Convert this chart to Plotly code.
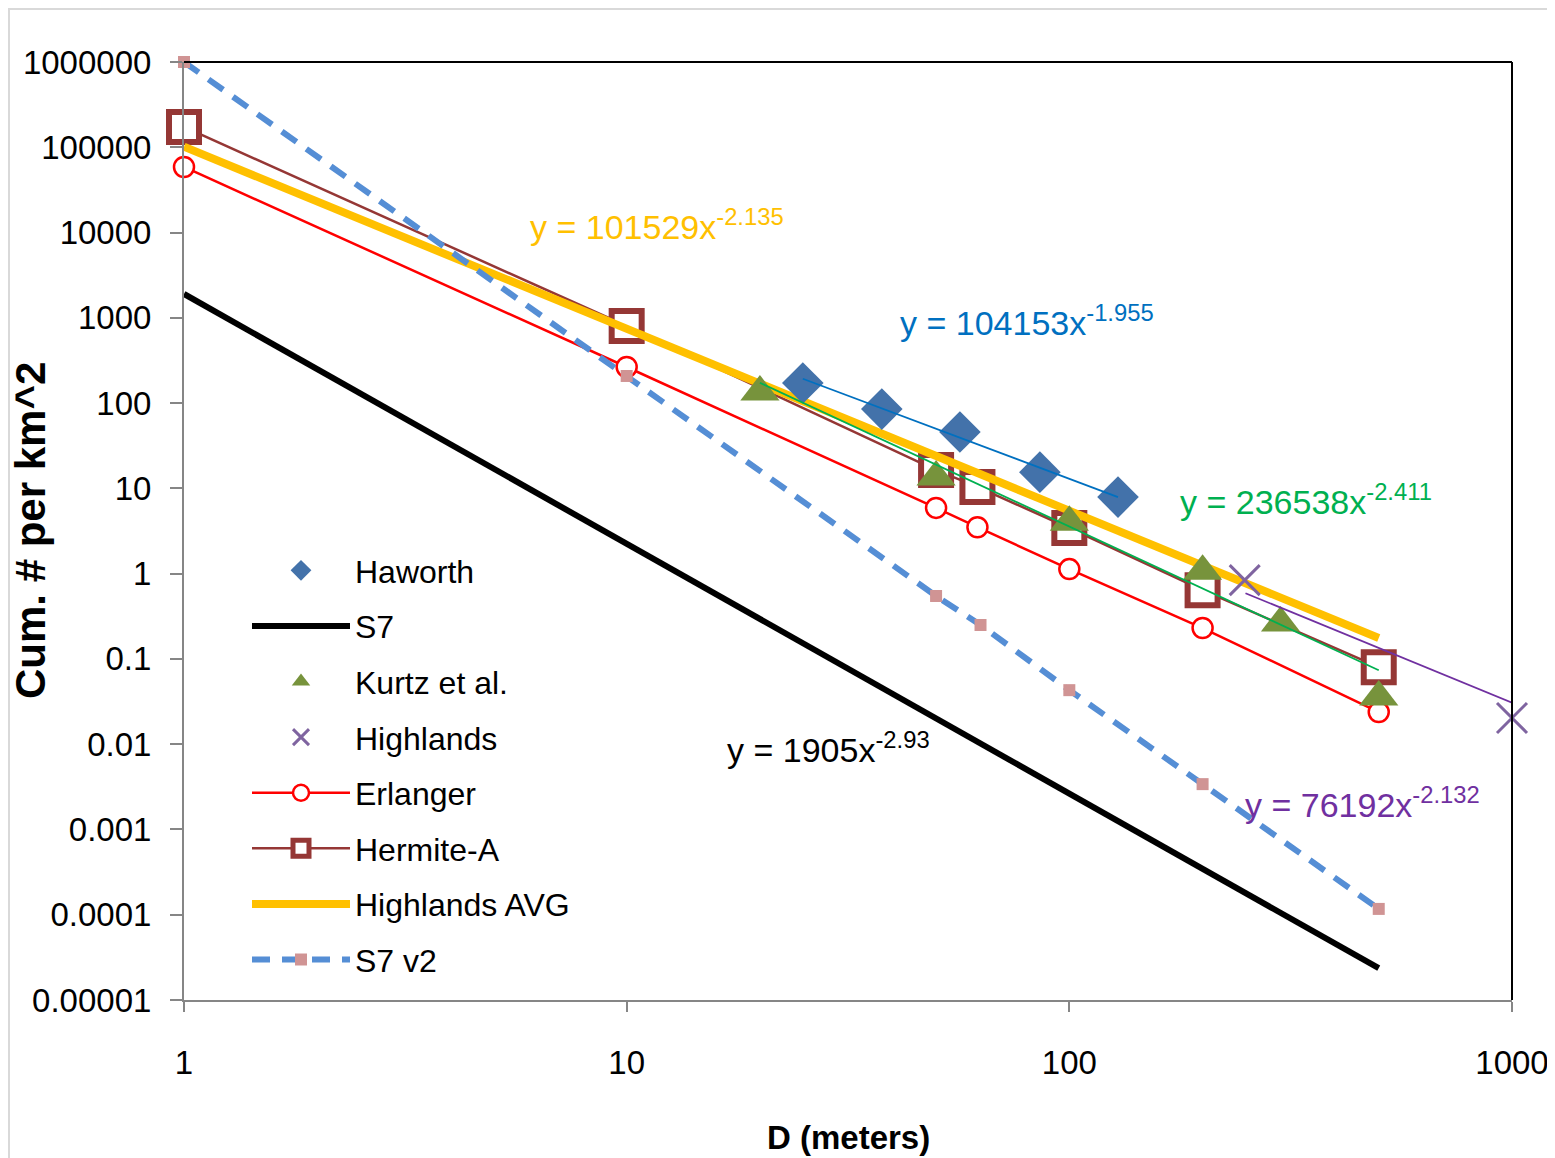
import plotly.graph_objects as go

# ---------------- data ----------------
haworth_x = [25, 37.7, 56.6, 85.8, 128.8]
haworth_y = [172, 85, 45.8, 15.5, 7.9]
haworth_trend_x = [25, 128.8]
haworth_trend_y = [193, 7.9]

s7_x = [1, 500]
s7_y = [1905, 2.36e-5]

kurtz_x = [20, 50, 100, 200, 300, 500]
kurtz_y = [135, 13.6, 4.0, 1.07, 0.264, 0.0357]
kurtz_trend_x = [20, 500]
kurtz_trend_y = [173, 0.0736]

highlands_x = [249, 1000]
highlands_y = [0.84, 0.0203]
highlands_trend_x = [250, 1000]
highlands_trend_y = [0.589, 0.0306]

erlanger_x = [1, 10, 50, 62, 100, 200, 500]
erlanger_y = [58700, 265, 5.9, 3.5, 1.13, 0.23, 0.0238]

hermite_x = [1, 10, 50, 62, 100, 200, 500]
hermite_y = [173000, 802, 16.4, 10.4, 3.43, 0.64, 0.080]

avg_x = [1, 500]
avg_y = [101500, 0.176]

s7v2_x = [1, 10, 50, 63, 100, 200, 500]
s7v2_y = [1000000, 208, 0.547, 0.25, 0.043, 0.0034, 0.000117]

x_ticks = [1, 10, 100, 1000]
x_tick_labels = ["1", "10", "100", "1000"]
y_ticks = [1e-5, 1e-4, 1e-3, 1e-2, 1e-1, 1, 10, 100, 1000, 10000, 100000, 1000000]
y_tick_labels = ["0.00001", "0.0001", "0.001", "0.01", "0.1", "1", "10", "100",
                 "1000", "10000", "100000", "1000000"]

eq_avg = "y = 101529x<sup>-2.135</sup>"
eq_haworth = "y = 104153x<sup>-1.955</sup>"
eq_kurtz = "y = 236538x<sup>-2.411</sup>"
eq_s7 = "y = 1905x<sup>-2.93</sup>"
eq_high = "y = 76192x<sup>-2.132</sup>"

# ---------------- figure ----------------
FONT = "Liberation Sans, Arial, sans-serif"
OFF = 8                      # page body margin of the html page
W, H = 1555 - OFF, 1158 - OFF
PX0, PX1, PY0, PY1 = 184, 1512, 62, 1000   # plot area in screen pixels
L, R, T, B = PX0 - OFF, 1555 - PX1 - OFF * 0 - 0, PY0 - OFF, 1158 - PY1
R = W - (PX1 - OFF)
B = H - (PY1 - OFF)


def px(xs):
    return (xs - PX0) / (PX1 - PX0)


def py(ys):
    return (PY1 - ys) / (PY1 - PY0)


fig = go.Figure()

fig.add_trace(go.Scatter(x=s7_x, y=s7_y, mode="lines", name="S7",
                         line=dict(color="black", width=6), cliponaxis=False,
                         legendrank=2, legendgroup="g2"))
fig.add_trace(go.Scatter(x=erlanger_x, y=erlanger_y, mode="lines+markers", name="Erlanger",
                         line=dict(color="#FF0000", width=2.5), cliponaxis=False,
                         marker=dict(symbol="circle", size=20, color="white",
                                     line=dict(color="#FF0000", width=2.5)),
                         legendrank=5, legendgroup="g5"))
fig.add_trace(go.Scatter(x=hermite_x, y=hermite_y, mode="lines+markers", name="Hermite-A",
                         line=dict(color="#953735", width=2.5), cliponaxis=False,
                         marker=dict(symbol="square", size=30, color="white",
                                     line=dict(color="#953735", width=6)),
                         legendrank=6, legendgroup="g6"))
fig.add_trace(go.Scatter(x=avg_x, y=avg_y, mode="lines", name="Highlands AVG",
                         line=dict(color="#FFC000", width=8), cliponaxis=False,
                         legendrank=7, legendgroup="g7"))
fig.add_trace(go.Scatter(x=s7v2_x, y=s7v2_y, mode="lines+markers", name="S7 v2",
                         line=dict(color="#558ED5", width=6, dash="18px,12px"), cliponaxis=False,
                         marker=dict(symbol="square", size=12, color="#D09494"),
                         legendrank=8, legendgroup="g8"))
fig.add_trace(go.Scatter(x=kurtz_x, y=kurtz_y, mode="markers", name="Kurtz et al.",
                         marker=dict(symbol="triangle-up", size=34, color="#77933C"),
                         cliponaxis=False, legendrank=3, legendgroup="g3"))
fig.add_trace(go.Scatter(x=haworth_x, y=haworth_y, mode="markers", name="Haworth",
                         marker=dict(symbol="diamond", size=32, color="#4372AA"),
                         cliponaxis=False, legendrank=1, legendgroup="g1"))
fig.add_trace(go.Scatter(x=highlands_x, y=highlands_y, mode="markers", name="Highlands",
                         marker=dict(symbol="x-thin", size=30,
                                     line=dict(color="#7F64A0", width=3)),
                         cliponaxis=False, legendrank=4, legendgroup="g4"))

# trend lines
fig.add_trace(go.Scatter(x=kurtz_trend_x, y=kurtz_trend_y, mode="lines", showlegend=False,
                         line=dict(color="#00B050", width=1.8), hoverinfo="skip"))
fig.add_trace(go.Scatter(x=haworth_trend_x, y=haworth_trend_y, mode="lines", showlegend=False,
                         line=dict(color="#0070C0", width=1.8), hoverinfo="skip"))
fig.add_trace(go.Scatter(x=highlands_trend_x, y=highlands_trend_y, mode="lines", showlegend=False,
                         line=dict(color="#7030A0", width=1.8), hoverinfo="skip",
                         cliponaxis=False))

ann_font = 34
annotations = [
    dict(text=eq_avg, x=px(528), y=py(224), color="#FFC000"),
    dict(text=eq_haworth, x=px(898), y=py(320), color="#0070C0"),
    dict(text=eq_kurtz, x=px(1178), y=py(499), color="#00B050"),
    dict(text=eq_s7, x=px(725), y=py(747), color="#000000"),
    dict(text=eq_high, x=px(1243), y=py(802), color="#7030A0"),
]
for a in annotations:
    fig.add_annotation(text=a["text"], x=a["x"], y=a["y"], xref="paper", yref="paper",
                       xanchor="left", yanchor="middle", showarrow=False,
                       font=dict(family=FONT, size=ann_font, color=a["color"]))

# axis titles
fig.add_annotation(text="<b>Cum. # per km^2</b>", x=px(30), y=py(531), xref="paper", yref="paper",
                   textangle=-90, showarrow=False, xanchor="center", yanchor="middle",
                   font=dict(family=FONT, size=42, color="black"))
fig.add_annotation(text="<b>D (meters)</b>", x=px(848), y=py(1137), xref="paper", yref="paper",
                   showarrow=False, xanchor="center", yanchor="middle",
                   font=dict(family=FONT, size=33, color="black"))

# frame lines (top / right black) and outer light border
fig.add_shape(type="line", xref="paper", yref="paper", x0=0, x1=1, y0=1, y1=1,
              line=dict(color="black", width=2))
fig.add_shape(type="line", xref="paper", yref="paper", x0=1, x1=1, y0=0, y1=1,
              line=dict(color="black", width=2))
fig.add_shape(type="line", xref="paper", yref="paper", x0=px(8), x1=px(1555), y0=py(9), y1=py(9),
              line=dict(color="#D9D9D9", width=2))
fig.add_shape(type="line", xref="paper", yref="paper", x0=px(9), x1=px(9), y0=py(9), y1=py(1158),
              line=dict(color="#D9D9D9", width=2))

fig.update_layout(
    width=W, height=H,
    margin=dict(l=L, r=R, t=T, b=B, pad=0, autoexpand=False),
    paper_bgcolor="white", plot_bgcolor="white",
    font=dict(family=FONT, size=33, color="black"),
    showlegend=True,
    legend=dict(x=px(247), y=py(543), xanchor="left", yanchor="top",
                bgcolor="rgba(0,0,0,0)", borderwidth=0,
                font=dict(family=FONT, size=32, color="black"),
                traceorder="grouped", tracegroupgap=11, itemwidth=98),
    xaxis=dict(type="log", range=[0, 3], tickvals=x_ticks, ticktext=x_tick_labels,
               automargin=False,
               showgrid=False, zeroline=False, showline=True, linecolor="#868686", linewidth=2,
               ticks="outside", ticklen=10, tickwidth=2, tickcolor="#868686",
               ticklabelstandoff=22, tickfont=dict(family=FONT, size=33, color="black")),
    yaxis=dict(type="log", range=[-5, 6], tickvals=y_ticks, ticktext=y_tick_labels,
               automargin=False,
               showgrid=False, zeroline=False, showline=True, linecolor="#868686", linewidth=2,
               ticks="outside", ticklen=12, tickwidth=2, tickcolor="#868686",
               ticklabelstandoff=12, tickfont=dict(family=FONT, size=33, color="black")),
)

fig.write_html("out.html")
